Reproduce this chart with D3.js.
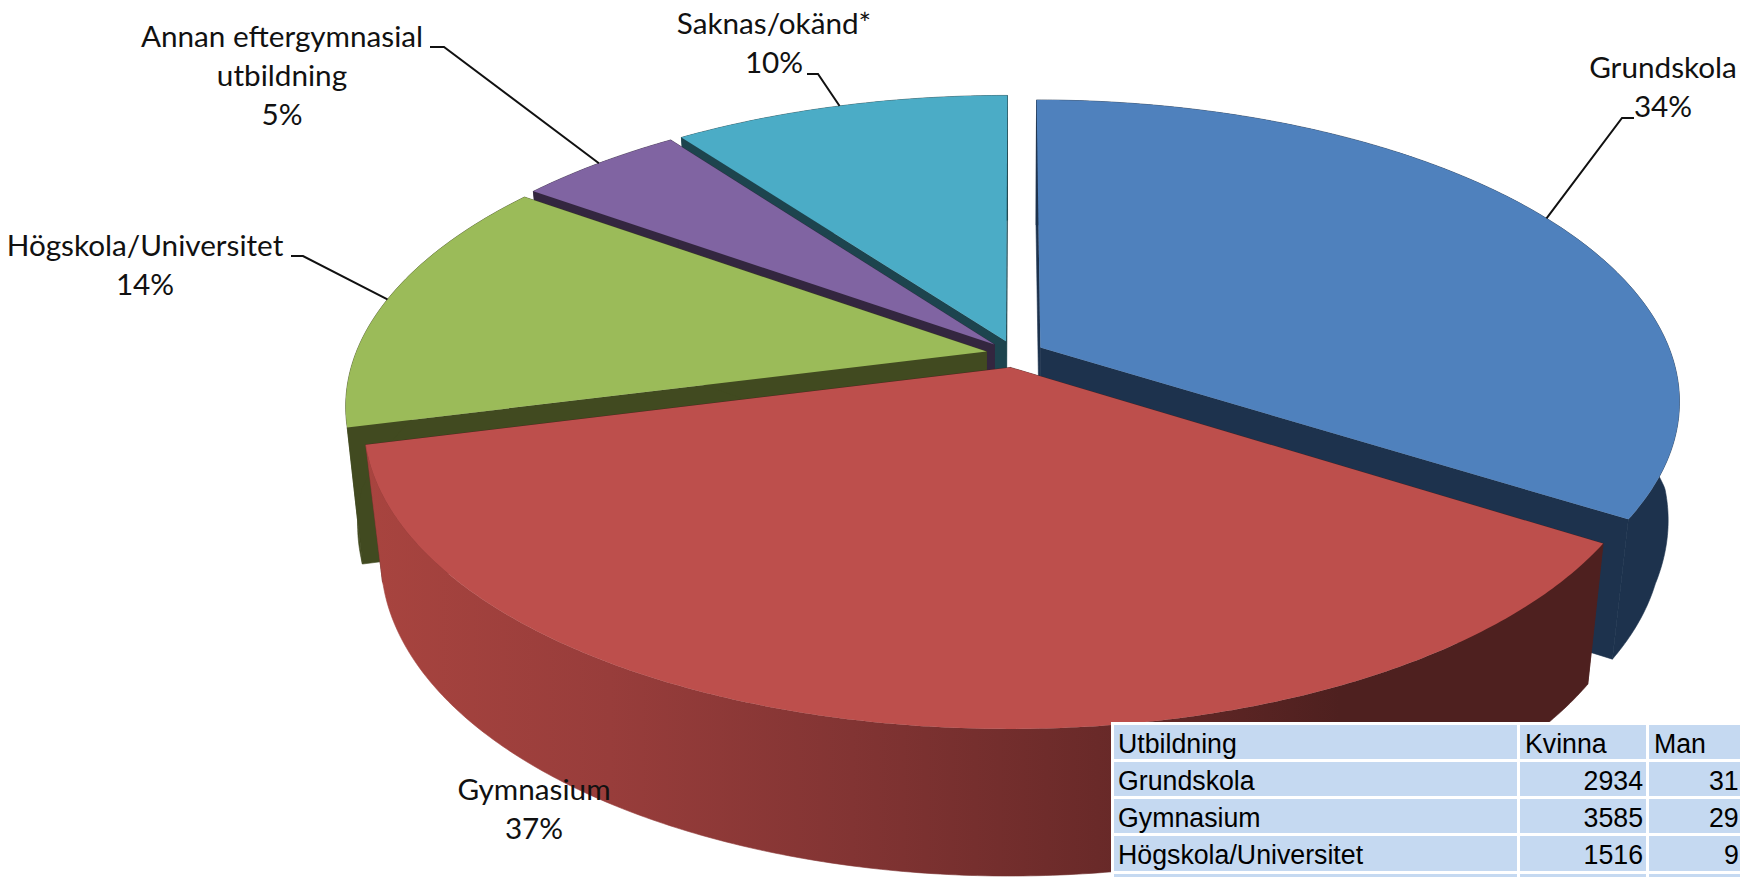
<!DOCTYPE html>
<html>
<head>
<meta charset="utf-8">
<script src="https://cdn.jsdelivr.net/npm/d3@7"></script>
<style>
	body { margin: 0; background: #fff; overflow: hidden; }
	svg { display: block; }
	.lbl { font-family: Lato, sans-serif; font-size: 29.7px; fill: #111; text-anchor: middle; }
	.cell { font-family: "Liberation Sans", Arial, sans-serif; font-size: 28px; fill: #000; }
</style>
</head>
<body>
<svg id="chart" width="1740" height="877"></svg>
<script>
var categories = ["Grundskola", "Gymnasium", "Högskola/Universitet", "Annan eftergymnasial utbildning", "Saknas/okänd*"];
var percents = [34, 37, 13.9, 5, 10.1];
var tableHeader = ["Utbildning", "Kvinna", "Man"];
var tableRows = ["Grundskola", "Gymnasium", "Högskola/Universitet"];
var kvinna = [2934, 3585, 1516];
var manVisible = ["31", "29", "9"]; // rest of these numbers is cut off by the picture edge

var topColors = ["#4f81bd", "#bd4f4c", "#9bbb59", "#8064a2", "#4bacc6"];
var wallColors = ["#1d324d", "#4e201f", "#414a20", "#33263f", "#1d444e"];

var svg = d3.select("#chart");

// ground plane -> screen, a simple perspective fitted to the picture
var cx = 1015, cy = 354,
	scaleX = 631, scaleY = 293, persp = 0.175,
	explode = 0.046;

function project(gx, gy, bottom) {
	var w = 1 - persp * gy,
		x = scaleX * gx / w,
		y = scaleY * gy / w;
	if (bottom) {
		// the lower rim pulls in towards the front
		var shrink = 0.974 + 0.016 * Math.max(0, 1 - Math.abs(gy) / 0.3);
		return [cx + x * shrink, cy + y * 1.035 + 134];
	}
	return [cx + x, cy + y];
}

var pie = d3.pie().sort(null).value(function(d) { return d; });
var slices = pie(percents);

function offset(d) {
	var mid = (d.startAngle + d.endAngle) / 2;
	return [explode * Math.sin(mid), -explode * Math.cos(mid)];
}
function rim(d, a, bottom) {
	var o = offset(d);
	return project(o[0] + Math.sin(a), o[1] - Math.cos(a), bottom);
}
function apex(d, bottom) {
	var o = offset(d);
	return project(o[0], o[1], bottom);
}
function arcAngles(d) {
	var n = Math.ceil((d.endAngle - d.startAngle) / 0.01);
	return d3.range(n + 1).map(function(i) {
		return d.startAngle + (d.endAngle - d.startAngle) * i / n;
	});
}

var line = d3.line();

// dark-to-light shading on the big red wall
var defs = svg.append("defs");
var grad = defs.append("linearGradient")
	.attr("id", "redWall")
	.attr("gradientUnits", "userSpaceOnUse")
	.attr("x1", 366).attr("x2", 1340).attr("y1", 0).attr("y2", 0);
[[0, "#a8443f"], [0.25, "#983d3b"], [0.5, "#823433"], [0.75, "#6a2a29"], [1, "#4e201f"]].forEach(function(s) {
	grad.append("stop").attr("offset", s[0]).attr("stop-color", s[1]);
});

// back to front: cyan, purple, green, blue, red
[4, 3, 2, 0, 1].forEach(function(i) {
	var d = slices[i],
		angles = arcAngles(d),
		g = svg.append("g"),
		wall = i == 1 ? "url(#redWall)" : wallColors[i];

	// radial walls
	[d.startAngle, d.endAngle].forEach(function(a) {
		var quad = [apex(d, false), rim(d, a, false), rim(d, a, true), apex(d, true)];
		g.append("path").attr("d", line(quad) + "Z")
			.attr("fill", wallColors[i]).attr("stroke", wallColors[i]).attr("stroke-width", 0.6);
	});

	// outer wall
	var outer = angles.map(function(a) { return rim(d, a, false); })
		.concat(angles.slice().reverse().map(function(a) { return rim(d, a, true); }));
	g.append("path").attr("d", line(outer) + "Z")
		.attr("fill", wall).attr("stroke", wall).attr("stroke-width", 0.6);

	// top face
	var top = [apex(d, false)].concat(angles.map(function(a) { return rim(d, a, false); }));
	g.append("path").attr("d", line(top) + "Z").attr("fill", topColors[i]);
});

// table
var colX = [1114, 1520, 1649],
	colR = [1517, 1646, 1745],
	rowY = [725, 762, 799, 836, 874],
	rowB = [759, 796, 833, 871, 900];

function cellText(t, x, y, anchor) {
	svg.append("text").attr("class", "cell")
		.attr("transform", "translate(" + x + "," + y + ") scale(0.955,1)")
		.attr("text-anchor", anchor || "start")
		.text(t);
}

svg.append("rect").attr("x", 1111).attr("y", 722).attr("width", 640).attr("height", 160).attr("fill", "#fff");
rowY.forEach(function(y, r) {
	colX.forEach(function(x, c) {
		svg.append("rect").attr("x", x).attr("y", y)
			.attr("width", colR[c] - x).attr("height", rowB[r] - y)
			.attr("fill", "#c5d9f1");
	});
});
tableHeader.forEach(function(t, c) {
	cellText(t, colX[c] + (c == 0 ? 4 : 5), 753);
});
tableRows.forEach(function(t, r) {
	var y = rowY[r + 1] + 28;
	cellText(t, 1118, y);
	cellText(kvinna[r], 1643, y, "end");
	cellText(manVisible[r], r == 2 ? 1724 : 1709, y);
});

// labels: text lines, anchor and where the leader line starts
var labelLayout = [
	{ i: 0, x: 1663, y: 78, lines: ["Grundskola"], leader: [[1634, 118], [1622, 118]] },
	{ i: 1, x: 534, y: 800, lines: ["Gymnasium"], leader: null },
	{ i: 2, x: 145, y: 256, lines: ["Högskola/Universitet"], leader: [[291, 256], [303, 256]] },
	{ i: 3, x: 282, y: 47, lines: ["Annan eftergymnasial", "utbildning"], leader: [[430, 47], [444, 47]] },
	{ i: 4, x: 774, y: 34, lines: ["Saknas/okänd*"], leader: [[807, 74], [818, 74]] }
];

labelLayout.forEach(function(l) {
	var d = slices[l.i];
	l.lines.concat([Math.round(percents[l.i]) + "%"]).forEach(function(t, k) {
		svg.append("text").attr("class", "lbl").attr("x", l.x).attr("y", l.y + k * 39).text(t);
	});
	if (l.leader) {
		var end = rim(d, (d.startAngle + d.endAngle) / 2, false);
		svg.append("path")
			.attr("d", line(l.leader.concat([end])))
			.attr("fill", "none").attr("stroke", "#111").attr("stroke-width", 2);
	}
});
</script>
</body>
</html>
